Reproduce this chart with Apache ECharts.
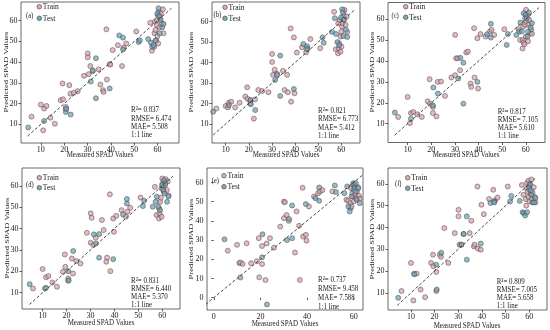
<!DOCTYPE html>
<html><head><meta charset="utf-8">
<script src="https://cdn.jsdelivr.net/npm/echarts@6/dist/echarts.min.js"></script>
<style>html,body{margin:0;padding:0;background:#fff}#c{width:550px;height:330px}</style>
</head><body><div id="c"></div>
<script>
// Shared measured SPAD values
const trainMeasured = [6.0,10.0,11.0,11.4,12.4,14.1,16.0,18.5,19.3,19.5,20.7,20.7,22.2,22.7,24.1,25.8,28.5,30.1,30.1,30.5,31.2,32.2,34.8,35.5,36.6,36.9,38.1,38.3,39.5,39.8,40.8,43.0,44.8,45.5,46.6,50.9,
  56.9,57.6,58.6,58.7,58.9,59.1,59.4,59.7,59.7,60.0,60.1,60.3,60.6,60.9,61.1,61.4,61.9,62.3,62.6];
const testMeasured = [4.6,11.4,20.7,20.9,22.8,31.4,32.3,33.6,33.6,39.5,43.6,45.2,45.2,51.9,52.4,
  56.0,57.2,57.7,58.3,59.1,59.9,60.4,60.7,60.9,61.3,62.0,62.6];

// Predicted values per model
const aTrainPred = [13.7,19.5,7.1,17.6,18.9,13.2,10.3,21.6,29.7,22.1,18.4,17.3,28.9,24.8,25.2,26.0,33.4,44.2,42.3,34.2,38.1,35.6,36.5,29.2,26.5,25.6,55.8,31.6,39.0,38.8,45.8,48.2,38.1,47.0,49.0,54.8,
  59.0,45.5,47.4,53.9,59.5,55.5,50.6,57.9,60.3,52.6,62.7,49.0,64.4,56.8,61.1,63.5,58.7,65.5,53.9];
const aTestPred = [8.5,11.6,16.0,17.5,14.7,30.6,36.0,41.9,22.6,27.3,52.9,51.8,46.1,49.7,50.5,
  51.1,49.4,47.4,48.2,50.3,63.5,66.0,62.3,53.9,60.3,56.8,58.4];
const bTrainPred = [17.5,18.8,18.1,20.4,20.9,18.1,20.4,23.4,27.9,22.2,21.5,20.0,12.6,22.0,26.6,26.1,25.5,40.3,44.2,34.0,36.5,34.5,35.9,26.6,34.0,25.5,56.7,20.9,52.3,25.0,44.9,47.5,45.0,47.0,51.5,47.0,
  64.8,46.5,44.5,59.2,47.0,49.4,60.8,52.7,45.3,55.1,47.8,57.6,59.2,60.8,63.3,65.7,58.4,62.5,55.0];
const bTestPred = [16.0,19.2,21.7,19.6,16.8,31.5,34.0,43.4,23.7,27.1,49.1,48.0,46.5,52.3,49.7,
  55.0,61.7,54.0,50.0,48.5,62.0,66.0,64.5,53.0,61.0,56.0,52.5];
const cTrainPred = [13.2,22.8,10.3,15.1,15.6,14.5,13.2,20.7,31.3,19.5,18.0,15.1,13.5,30.0,30.2,23.3,32.1,52.5,33.2,41.3,41.3,35.6,44.1,44.5,29.2,27.6,55.7,32.1,50.9,26.8,52.9,51.7,54.1,54.9,52.5,55.2,
  55.2,50.0,46.0,50.0,56.5,48.8,48.0,60.5,57.3,51.7,64.5,59.2,62.1,49.5,57.3,59.7,53.3,55.0,53.0];
const cTestPred = [15.3,12.4,18.8,27.3,24.4,31.6,41.5,19.6,39.2,30.0,52.8,57.8,51.2,47.7,52.9,
  52.5,54.1,58.4,54.1,62.9,62.1,60.5,51.7,54.1,63.2,56.0,58.1];
const dTrainPred = [12.0,21.1,12.0,17.2,17.8,14.8,12.8,19.8,27.9,22.1,16.7,15.6,26.0,19.0,24.8,23.7,38.0,47.1,33.4,45.0,32.3,35.7,44.0,39.3,24.5,26.4,56.0,20.1,44.7,38.5,46.0,48.6,45.5,47.9,49.7,54.5,
  59.5,46.3,44.7,49.4,47.0,52.5,54.4,58.8,45.5,63.4,61.1,59.5,57.2,61.9,60.2,63.1,58.0,62.0,55.5];
const dTestPred = [14.0,12.3,20.1,15.8,29.5,37.3,33.0,37.4,26.4,25.7,46.6,51.7,53.8,50.5,53.0,
  50.2,52.5,54.9,50.2,48.6,60.3,58.0,62.6,56.4,61.0,52.5,55.0];
const eTrainPred = [24.5,27.5,18.0,18.3,17.6,28.3,17.9,19.0,31.0,10.6,17.5,26.9,9.2,28.2,31.0,26.0,37.0,50.0,41.4,49.7,43.0,40.0,23.5,44.9,37.4,9.2,57.2,31.8,32.7,29.7,47.5,52.7,54.4,55.3,56.0,55.3,
  51.0,50.4,49.2,46.6,57.0,47.5,54.4,58.8,52.7,56.2,50.1,58.8,53.6,56.2,51.8,55.3,57.5,53.0,51.5];
const eTestPred = [30.4,10.5,21.0,33.0,-3.5,30.0,41.0,48.0,31.0,48.7,51.8,50.4,57.4,58.4,55.0,
  54.4,57.9,47.5,44.9,52.7,59.6,57.0,55.3,59.6,51.0,57.0,49.2];
const fTrainPred = [10.8,23.7,6.5,18.8,18.8,11.5,8.0,23.7,27.5,22.2,10.8,19.6,27.5,26.5,39.7,23.7,37.4,48.1,45.1,32.1,32.1,37.0,37.4,43.1,31.3,32.1,58.8,30.3,29.8,50.4,46.1,53.1,57.3,52.5,53.7,58.8,
  59.5,55.0,53.0,50.0,58.0,60.5,56.5,54.0,61.5,57.5,52.0,59.5,55.5,62.0,53.0,56.0,58.5,54.0,51.5];
const fTestPred = [7.7,18.5,22.9,11.5,28.4,32.1,37.0,45.1,25.2,32.6,51.2,51.9,51.5,51.9,54.5,
  52.2,47.0,46.5,45.5,47.0,58.5,60.0,57.0,55.0,51.5,51.5,53.5];

// 1:1 line extents
const aLine = [4.3, 66.0], bLine = [4.6, 66.0], cLine = [4.5, 65.5];
const dLine = [4.5, 64.5], eLine = [-3.5, 64.0], fLine = [4.2, 62.5];

// Metrics
const aStats = ['0.837','6.474','5.508'];
const bStats = ['0.821','6.773','5.412'];
const cStats = ['0.817','7.105','5.610'];
const dStats = ['0.831','6.440','5.370'];
const eStats = ['0.737','9.458','7.588'];
const fStats = ['0.809','7.005','5.658'];

// Tick labels
const ticks10 = [10,20,30,40,50,60];
const eXTicks = [0,20,40,60];
const eYTicks = [0,10,20,30,40,50,60];

const FONT = 'Liberation Serif';
const TRAIN_C = 'rgba(218,160,172,0.9)';
const TEST_C = 'rgba(108,160,180,0.9)';
const EDGE = '#3c3c3c';
const SQUEEZE = 0.82; // reference text is horizontally compressed

const panels = [
  {tag:'(a)', grid:{left:21,top:2,width:158,height:141}, xr:[1.5,69.2], yr:[1,69], xt:ticks10, yt:ticks10,
   tr:aTrainPred, te:aTestPred, line:aLine, st:aStats,
   leg:{x:39.3,y1:6.7,y2:18.3}, lab:{x:26,y:15.7}, sp:{x:131,y:110,dy:8.4}, xn:{x:100,y:155}, yn:{x:6,y:72}},
  {tag:'(b)', grid:{left:212,top:2,width:148,height:141}, xr:[4.1,68.1], yr:[0.7,69.6], xt:ticks10, yt:ticks10,
   tr:bTrainPred, te:bTestPred, line:bLine, st:bStats,
   leg:{x:225,y1:7.3,y2:18.3}, lab:{x:213.5,y:15.2}, sp:{x:318,y:110.5,dy:8.5}, xn:{x:286,y:155}, yn:{x:191.5,y:72}},
  {tag:'(c)', grid:{left:388,top:2.5,width:157,height:140}, xr:[1.7,68.1], yr:[1,68], xt:ticks10, yt:ticks10,
   tr:cTrainPred, te:cTestPred, line:cLine, st:cStats,
   leg:{x:405.7,y1:6.7,y2:17.3}, lab:{x:391.5,y:15.7}, sp:{x:497.7,y:111.5,dy:8.1}, xn:{x:466,y:155}, yn:{x:372,y:72}},
  {tag:'(d)', grid:{left:22,top:168,width:158,height:141}, xr:[1.4,67.4], yr:[2.4,68.3], xt:ticks10, yt:ticks10,
   tr:dTrainPred, te:dTestPred, line:dLine, st:dStats,
   leg:{x:39.3,y1:177.7,y2:187.7}, lab:{x:26,y:185}, sp:{x:131,y:281,dy:8}, xn:{x:101,y:322.5}, yn:{x:7,y:238}},
  {tag:'(e)', grid:{left:207,top:168,width:156,height:142}, xr:[-2.9,64], yr:[-6.4,67.5], xt:eXTicks, yt:eYTicks,
   tr:eTrainPred, te:eTestPred, line:eLine, st:eStats,
   leg:{x:224,y1:175.7,y2:186.7}, lab:{x:211.7,y:180.7}, sp:{x:318,y:280,dy:8.9}, xn:{x:285,y:324}, yn:{x:191.5,y:239}},
  {tag:'(f)', grid:{left:388,top:168,width:159,height:142}, xr:[0.3,67.5], yr:[2.1,67.3], xt:ticks10, yt:ticks10,
   tr:fTrainPred, te:fTestPred, line:fLine, st:fStats,
   leg:{x:407.7,y1:177.7,y2:188.3}, lab:{x:395,y:184.3}, sp:{x:496.7,y:281.7,dy:8.1}, xn:{x:467,y:325.5}, yn:{x:372,y:239}}
];

const grids = [], xAxes = [], yAxes = [], series = [], graphics = [];
const axisCommon = (vals) => ({
  type:'value', scale:true,
  splitLine:{show:false},
  axisLine:{show:false},
  axisTick:{show:true, length:2.5, customValues:vals, lineStyle:{color:'#333', width:0.8}},
  axisLabel:{customValues:vals, fontFamily:FONT, fontSize:8, color:'#222'}
});
function txt(x, y, text, size, align, rot) {
  const g = {type:'text', x:x, y:y, silent:true, z:20,
    style:{text:text, font:size+'px "'+FONT+'"', fill:'#1a1a1a', textAlign:align||'left', textVerticalAlign:'middle'}};
  if (rot) { g.rotation = rot; g.scaleY = SQUEEZE; } else { g.scaleX = SQUEEZE; }
  return g;
}
panels.forEach((p, i) => {
  grids.push(Object.assign({show:true, borderColor:'#444', borderWidth:0.8, backgroundColor:'#fff', containLabel:false}, p.grid));
  const xa = axisCommon(p.xt); xa.gridIndex = i; xa.min = p.xr[0]; xa.max = p.xr[1]; xa.axisLabel.margin = 3;
  const ya = axisCommon(p.yt); ya.gridIndex = i; ya.min = p.yr[0]; ya.max = p.yr[1]; ya.axisLabel.margin = 3.5;
  xAxes.push(xa); yAxes.push(ya);
  series.push({type:'scatter', name:'Train', xAxisIndex:i, yAxisIndex:i, symbolSize:5, silent:true,
    data: trainMeasured.map((m, j) => [m, p.tr[j]]),
    itemStyle:{color:TRAIN_C, borderColor:EDGE, borderWidth:0.6}});
  series.push({type:'scatter', name:'Test', xAxisIndex:i, yAxisIndex:i, symbolSize:5, silent:true,
    data: testMeasured.map((m, j) => [m, p.te[j]]),
    itemStyle:{color:TEST_C, borderColor:EDGE, borderWidth:0.6}});
  series.push({type:'line', name:'1:1 line', xAxisIndex:i, yAxisIndex:i, symbol:'none', silent:true, z:3,
    data:[[p.line[0], p.line[0]], [p.line[1], p.line[1]]],
    lineStyle:{color:'#333', width:0.9, type:[3,2]}});
  // legend
  graphics.push({type:'circle', shape:{cx:p.leg.x, cy:p.leg.y1, r:2.3}, style:{fill:TRAIN_C, stroke:EDGE, lineWidth:0.6}, silent:true, z:10});
  graphics.push({type:'circle', shape:{cx:p.leg.x, cy:p.leg.y2, r:2.3}, style:{fill:TEST_C, stroke:EDGE, lineWidth:0.6}, silent:true, z:10});
  graphics.push(txt(p.leg.x + 3.5, p.leg.y1, 'Train', 9.2));
  graphics.push(txt(p.leg.x + 3.5, p.leg.y2, 'Test', 9.2));
  graphics.push(txt(p.lab.x, p.lab.y, p.tag, 8));
  // stats
  const lines = ['R\u00b2= ' + p.st[0], 'RMSE= ' + p.st[1], 'MAE= ' + p.st[2], '1:1 line'];
  lines.forEach((s, k) => graphics.push(txt(p.sp.x, p.sp.y + k * p.sp.dy, s, 8.5)));
  // axis names
  graphics.push(txt(p.xn.x, p.xn.y, 'Measured SPAD Values', 8.5, 'center'));
  graphics.push(txt(p.yn.x, p.yn.y, 'Predicted SPAD Values', 8.6, 'center', Math.PI / 2));
});

const chart = echarts.init(document.getElementById('c'), null, {renderer:'canvas'});
chart.setOption({
  animation:false,
  backgroundColor:'#fff',
  grid:grids, xAxis:xAxes, yAxis:yAxes, series:series,
  graphic:{elements:graphics}
});
</script></body></html>
